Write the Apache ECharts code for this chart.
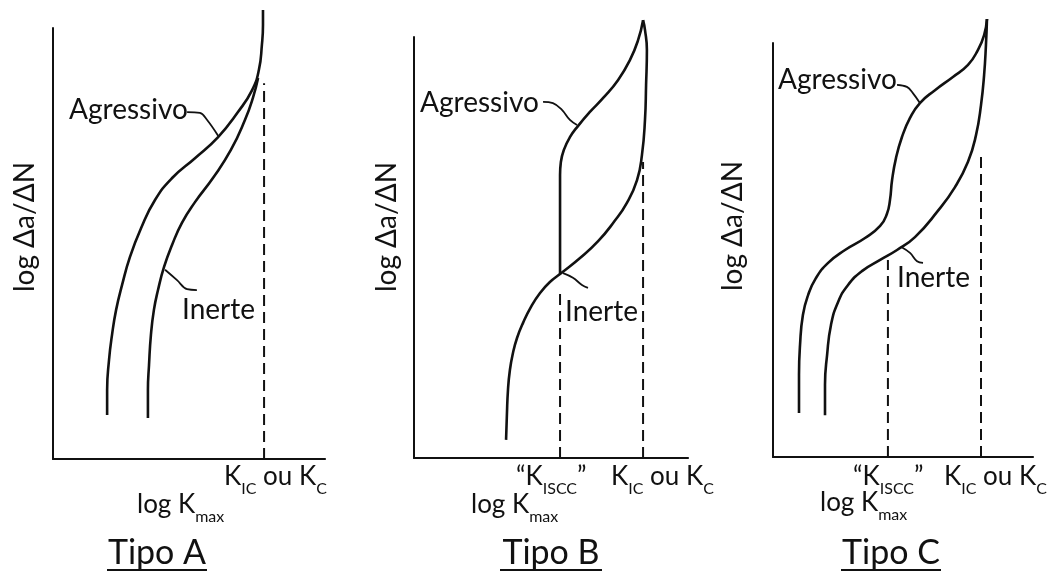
<!DOCTYPE html>
<html>
<head>
<meta charset="utf-8">
<script src="https://cdn.jsdelivr.net/npm/echarts@6/dist/echarts.min.js"></script>
<style>
html,body{margin:0;padding:0;background:#fff;}
#chart{width:1048px;height:573px;}
</style>
</head>
<body>
<div id="chart"></div>
<script>
// ---- Data (arbitrary log units read from the schematic) ----
// Tipo A
const aggA = [[1.99,1.02],[1.99,1.60],[2.06,2.30],[2.17,2.88],[2.32,3.46],[2.54,4.04],[2.83,4.69],[3.24,5.36],[3.75,6.01],[4.38,6.52],[5.22,6.98],[6.07,7.47],[6.80,8.05],[7.32,8.56],[7.57,9.03],[7.68,9.61],[7.72,10.07],[7.72,10.42]];
const inertA = [[3.49,0.95],[3.49,1.60],[3.53,2.18],[3.60,2.88],[3.71,3.46],[3.86,3.92],[4.08,4.45],[4.38,4.97],[4.74,5.48],[5.22,5.96],[5.88,6.52],[6.54,7.17],[7.06,7.87],[7.35,8.38],[7.54,8.84]];
const kicA = [[7.76,0],[7.76,8.72]];
const leadAggA = [[4.93,8.05],[5.40,8.03],[5.66,7.87],[6.07,7.50]];
const leadInertA = [[4.12,4.39],[4.56,4.15],[4.93,3.94],[5.29,3.92]];
// Tipo B
const aggB = [[5.33,4.37],[5.33,5.65],[5.33,6.72],[5.36,7.03],[5.47,7.32],[5.69,7.62],[5.99,7.89],[6.42,8.22],[6.93,8.57],[7.45,8.98],[7.88,9.45],[8.18,9.93],[8.36,10.40]];
const inertB = [[3.36,0.43],[3.39,1.02],[3.43,1.62],[3.50,2.09],[3.61,2.49],[3.76,2.85],[3.98,3.21],[4.27,3.59],[4.60,3.92],[4.96,4.18],[5.33,4.37],[6.06,4.75],[6.72,5.15],[7.30,5.61],[7.77,6.06],[8.14,6.60],[8.32,7.20],[8.43,8.03],[8.47,8.86],[8.50,9.69],[8.43,10.17],[8.36,10.40]];
const kisccB = [[5.33,0],[5.33,4.04]];
const kicB = [[8.36,0],[8.36,7.03]];
const leadAggB = [[4.71,8.46],[5.07,8.43],[5.40,8.27],[5.69,8.03],[5.95,7.91]];
const leadInertB = [[5.44,4.39],[5.80,4.28],[6.13,4.11],[6.35,4.04]];
// Tipo C
const aggC = [[1.00,1.06],[1.00,1.98],[1.04,2.71],[1.15,3.43],[1.35,3.91],[1.65,4.32],[2.12,4.69],[2.77,5.00],[3.54,5.29],[4.12,5.58],[4.38,5.87],[4.50,6.21],[4.58,6.69],[4.73,7.22],[4.96,7.73],[5.27,8.19],[5.65,8.55],[6.23,8.86],[6.92,9.18],[7.50,9.47],[7.88,9.83],[8.12,10.19],[8.23,10.58]];
const inertC = [[2.00,1.01],[2.00,1.74],[2.08,2.46],[2.23,3.19],[2.50,3.74],[2.88,4.15],[3.42,4.49],[4.12,4.76],[4.77,5.00],[5.46,5.31],[6.31,5.92],[7.00,6.52],[7.50,7.13],[7.81,7.78],[8.00,8.50],[8.12,9.23],[8.19,9.95],[8.23,10.58]];
const kisccC = [[4.42,0],[4.42,4.76]];
const kicC = [[8.00,0],[8.00,7.37]];
const leadAggC = [[4.77,8.99],[5.15,8.94],[5.38,8.79],[5.65,8.55]];
const leadInertC = [[4.92,5.08],[5.27,4.93],[5.54,4.73],[5.77,4.69]];
// Texts
const panelTitles = ['Tipo A','Tipo B','Tipo C'];
const yTitle = 'log Δa/ΔN';
const curveNames = ['Agressivo','Inerte'];

const FONT = 'Lato, "Open Sans", sans-serif';
const INK = '#111';

const chart = echarts.init(document.getElementById('chart'), null, {renderer:'canvas'});

const grids = [
  {left:53, top:28, width:272, height:431},
  {left:414, top:37, width:274, height:421},
  {left:773, top:43, width:260, height:414}
];
function xAx(i){return {gridIndex:i,type:'value',min:0,max:10,axisLine:{show:true,onZero:false,lineStyle:{color:INK,width:2.2}},axisTick:{show:false},axisLabel:{show:false},splitLine:{show:false}};}
function yAx(i){return {gridIndex:i,type:'value',min:0,max:10,axisLine:{show:true,onZero:false,lineStyle:{color:INK,width:2}},axisTick:{show:false},axisLabel:{show:false},splitLine:{show:false}};}

function curve(data,i,name){return {type:'line',name:name,xAxisIndex:i,yAxisIndex:i,data:data,smooth:0.5,showSymbol:false,symbol:'none',clip:false,silent:true,lineStyle:{color:INK,width:2.6},z:5};}
function dashed(data,i){return {type:'line',xAxisIndex:i,yAxisIndex:i,data:data,showSymbol:false,symbol:'none',clip:false,silent:true,lineStyle:{color:INK,width:2,type:[11,6]},z:3};}
function leader(data,i){return {type:'line',xAxisIndex:i,yAxisIndex:i,data:data,smooth:0.4,showSymbol:false,symbol:'none',clip:false,silent:true,lineStyle:{color:INK,width:1.8},z:4};}

const series = [
  curve(aggA,0,'Agressivo A'), curve(inertA,0,'Inerte A'), dashed(kicA,0), leader(leadAggA,0), leader(leadInertA,0),
  curve(aggB,1,'Agressivo B'), curve(inertB,1,'Inerte B'), dashed(kisccB,1), dashed(kicB,1), leader(leadAggB,1), leader(leadInertB,1),
  curve(aggC,2,'Agressivo C'), curve(inertC,2,'Inerte C'), dashed(kisccC,2), dashed(kicC,2), leader(leadAggC,2), leader(leadInertC,2)
];

const richK = {
  k:{fontFamily:FONT,fontSize:26,fill:INK,color:INK,verticalAlign:'bottom',padding:[0,0,7,0]},
  s:{fontFamily:FONT,fontSize:16,fill:INK,color:INK,verticalAlign:'bottom'}
};
function txt(x,y,text,opts){
  opts = opts||{};
  return {type:'text',x:x,y:y,rotation:opts.rotation||0,silent:true,z:10,
    style:{text:text,fill:INK,font:(opts.size||27)+'px '+FONT,align:opts.align||'left',verticalAlign:'middle',rich:opts.rich}};
}
function under(x1,x2,y){return {type:'line',silent:true,z:10,shape:{x1:x1,y1:y,x2:x2,y2:y},style:{stroke:INK,lineWidth:2}};}

const graphic = [
  // curve labels
  txt(69,110,curveNames[0],{size:28}), txt(182,310,curveNames[1],{size:28}),
  txt(420,103,curveNames[0],{size:28}), txt(565,312,curveNames[1],{size:28}),
  txt(778,80,curveNames[0],{size:28}), txt(897,278,curveNames[1],{size:28}),
  // y titles
  txt(25,227,yTitle,{rotation:Math.PI/2,align:'center',size:28}),
  txt(387,227,yTitle,{rotation:Math.PI/2,align:'center',size:28}),
  txt(733,226,yTitle,{rotation:Math.PI/2,align:'center',size:28}),
  // K labels
  txt(224,480,'{k|K}{s|IC}{k| ou K}{s|C}',{rich:richK}),
  txt(516,480,'{k|“K}{s|ISCC}{k|”}',{rich:richK}),
  txt(611,480,'{k|K}{s|IC}{k| ou K}{s|C}',{rich:richK}),
  txt(853,480,'{k|“K}{s|ISCC}{k|”}',{rich:richK}),
  txt(944,480,'{k|K}{s|IC}{k| ou K}{s|C}',{rich:richK}),
  // x titles
  txt(137,508,'{k|log K}{s|max}',{rich:richK}),
  txt(471,508,'{k|log K}{s|max}',{rich:richK}),
  txt(820,506,'{k|log K}{s|max}',{rich:richK}),
  // panel titles
  txt(157,553,panelTitles[0],{size:34,align:'center'}),
  txt(551,553,panelTitles[1],{size:34,align:'center'}),
  txt(891,553,panelTitles[2],{size:34,align:'center'}),
  under(107,207,570), under(500,602,570), under(841,941,570)
];

chart.setOption({
  animation:false,
  backgroundColor:'#fff',
  grid:grids,
  xAxis:[xAx(0),xAx(1),xAx(2)],
  yAxis:[yAx(0),yAx(1),yAx(2)],
  series:series,
  graphic:graphic
});
</script>
</body>
</html>
